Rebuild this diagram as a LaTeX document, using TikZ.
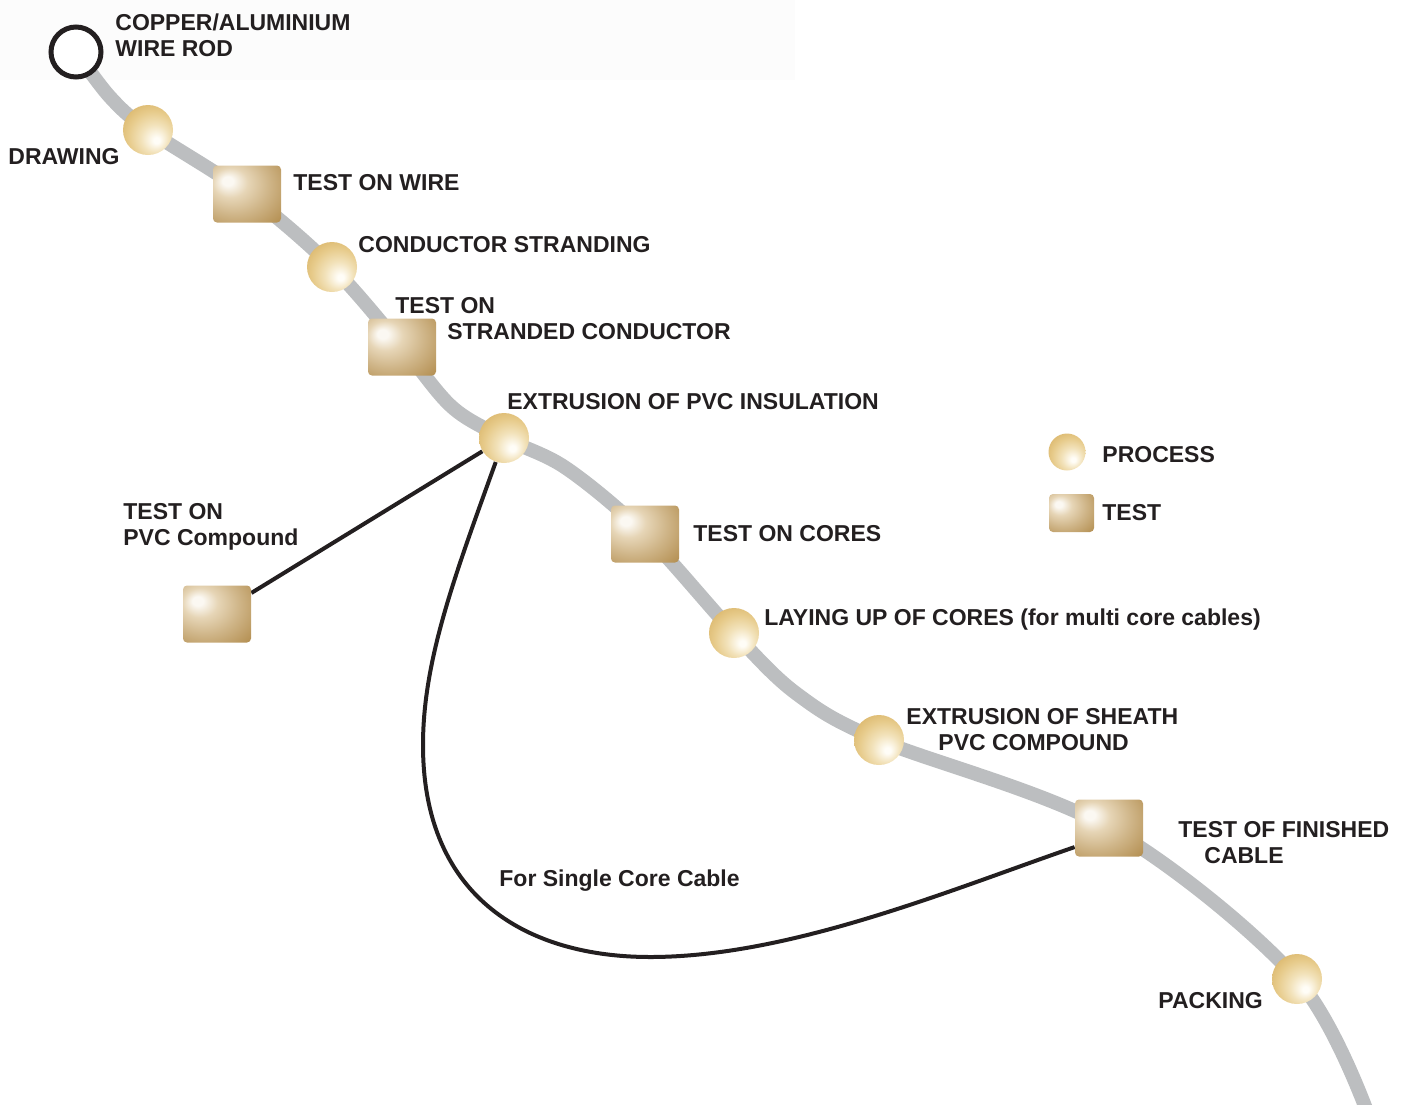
\documentclass[tikz,border=0pt]{standalone}
\usepackage{fontspec}
\setmainfont{Liberation Sans}
\usetikzlibrary{backgrounds}
\definecolor{ink}{HTML}{231F20}
\definecolor{track}{HTML}{BCBEC0}
\definecolor{faint}{HTML}{FCFCFC}
\definecolor{goldA}{HTML}{FFFDF7}
\definecolor{goldB}{HTML}{F2E2BA}
\definecolor{goldC}{HTML}{E7CB8B}
\definecolor{goldD}{HTML}{D7B061}
\definecolor{tanA}{HTML}{FBF8F2}
\definecolor{tanB}{HTML}{E6D5B6}
\definecolor{tanC}{HTML}{CFB588}
\definecolor{tanD}{HTML}{B8955A}
\definecolor{tanE}{HTML}{9F742F}
\pgfdeclareradialshading{procball}{\pgfpoint{9bp}{-11bp}}{color(0bp)=(goldA); color(3bp)=(goldA); color(14bp)=(goldB); color(25bp)=(goldC); color(38bp)=(goldD); color(60bp)=(goldD)}
\pgfdeclareradialshading{testbox}{\pgfpoint{-15bp}{12bp}}{color(0bp)=(tanA); color(4bp)=(tanA); color(13bp)=(tanB); color(26bp)=(tanC); color(40bp)=(tanD); color(54bp)=(tanE); color(75bp)=(tanE)}
\tikzset{
  proc/.style={circle, minimum size=25pt, inner sep=0pt, shading=procball},
  testbox/.style={rectangle, rounded corners=2pt, minimum width=34pt, minimum height=28.5pt, inner sep=0pt, shading=testbox},
  lbl/.style={anchor=base west, inner sep=0pt, text=ink, font=\fontsize{11.5}{13}\selectfont\bfseries},
  trackline/.style={draw=track, line width=7pt},
  link/.style={draw=ink, line width=2pt},
}
\begin{document}
\begin{tikzpicture}[x=0.5pt, y=-0.5pt]
\useasboundingbox (0,0) rectangle (1408,1104);
\clip (0,0) rectangle (1408,1104);
% node positions
\coordinate (cwire) at (76,52);
\coordinate (cdraw) at (148,130);
\coordinate (ctw) at (247,194);
\coordinate (ccs) at (332,267);
\coordinate (ctsc) at (402,347);
\coordinate (cext) at (504,438);
\coordinate (ctc) at (645,534);
\coordinate (clay) at (734,633);
\coordinate (csh) at (879,740);
\coordinate (ctfc) at (1109,828);
\coordinate (cpack) at (1297,979);
\coordinate (tail) at (1372,1125);
% nodes
\node[circle, minimum size=25pt, inner sep=0pt, fill=white, draw=ink, line width=2.5pt] (wire) at (cwire) {};
\node[proc] (draw) at (cdraw) {};
\node[testbox] (tw) at (ctw) {};
\node[proc] (cs) at (ccs) {};
\node[testbox] (tsc) at (ctsc) {};
\node[proc] (ext) at (cext) {};
\node[testbox] (pvc) at (217,614) {};
\node[testbox] (tc) at (ctc) {};
\node[proc] (lay) at (clay) {};
\node[proc] (sh) at (csh) {};
\node[testbox] (tfc) at (ctfc) {};
\node[proc] (pack) at (cpack) {};
\begin{pgfonlayer}{background}
\fill[faint] (0,0) rectangle (795,80);
% grey track
\draw[trackline] plot[smooth, tension=0.55] coordinates {(cwire) (110,97) (cdraw) (ctw) (ccs) (ctsc) (452,407) (cext) (566,468) (ctc) (clay) (797,694) (csh) (ctfc) (cpack) (tail)};
% black connectors
\draw[link] (ext) -- (pvc);
\draw[link] (ext.251) .. controls (455,575) and (423,660) .. (423,745)
  .. controls (423,900) and (530,957) .. (650,957)
  .. controls (790,957) and (950,890) .. (tfc.209);
\end{pgfonlayer}
% legend
\node[proc, minimum size=18.5pt] (legp) at (1067,452) {};
\node[testbox, minimum width=22.5pt, minimum height=19pt] (legt) at (1071.5,513) {};
% labels
\node[lbl] (l1a) at (115,30) {COPPER/ALUMINIUM};
\node[lbl] (l1b) at (115,56) {WIRE ROD};
\node[lbl] (l2) at (8,164) {DRAWING};
\node[lbl] (l3) at (293,190) {TEST ON WIRE};
\node[lbl] (l4) at (358,252) {CONDUCTOR STRANDING};
\node[lbl] (l5a) at (395,313) {TEST ON};
\node[lbl] (l5b) at (447,339) {STRANDED CONDUCTOR};
\node[lbl] (l6) at (507,409) {EXTRUSION OF PVC INSULATION};
\node[lbl] (lp) at (1102,462) {PROCESS};
\node[lbl] (lt) at (1102,520) {TEST};
\node[lbl] (l7a) at (123,519) {TEST ON};
\node[lbl] (l7b) at (123,545) {PVC Compound};
\node[lbl] (l8) at (693,541) {TEST ON CORES};
\node[lbl] (l9) at (764,625) {LAYING UP OF CORES (for multi core cables)};
\node[lbl] (l10a) at (906,724) {EXTRUSION OF SHEATH};
\node[lbl] (l10b) at (938,750) {PVC COMPOUND};
\node[lbl] (l11a) at (1178,837) {TEST OF FINISHED};
\node[lbl] (l11b) at (1204,863) {CABLE};
\node[lbl] (l12) at (499,886) {For Single Core Cable};
\node[lbl] (l13) at (1158,1008) {PACKING};
\end{tikzpicture}
\end{document}
